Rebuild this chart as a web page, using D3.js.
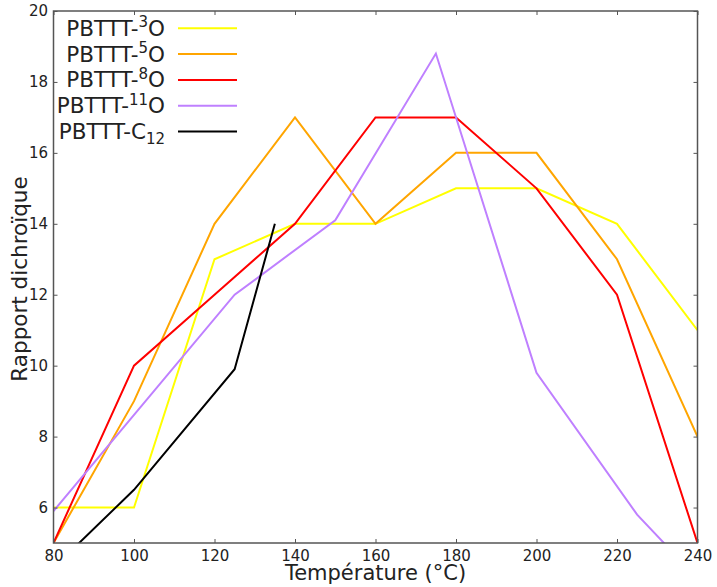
<!DOCTYPE html>
<html><head><meta charset="utf-8">
<script src="https://cdn.jsdelivr.net/npm/d3@7"></script>
<style>body{margin:0;background:#fff}svg{display:block}text{font-family:"DejaVu Sans",sans-serif;fill:#222}</style>
</head><body><svg id="c" width="717" height="587"></svg>
<script>
const xTicks = [80,100,120,140,160,180,200,220,240];
const yTicks = [6,8,10,12,14,16,18,20];
const s3O_x = [80,100,120,140,160,180,200,220,240];
const s3O_y = [6,6,13,14,14,15,15,14,11];
const s5O_x = [80,100,120,140,160,180,200,220,240];
const s5O_y = [5,9,14,17,14,16,16,13,8];
const s8O_x = [80,100,120,140,160,180,200,220,240];
const s8O_y = [5,10,12,14,17,17,15,12,5];
const s11O_x = [80,125,150,175,200,225,240];
const s11O_y = [5.9,12,14.1,18.8,9.8,5.8,4.0];
const sC12_x = [80,100,125,135];
const sC12_y = [4.3,6.5,9.9,14];
const names = [["PBTTT-","3","O","sup"],["PBTTT-","5","O","sup"],["PBTTT-","8","O","sup"],["PBTTT-","11","O","sup"],["PBTTT-C","12","","sub"]];
const colors = ["#ffff00","#ffa500","#ff0000","#bf80ff","#000000"];

const series = [[s3O_x,s3O_y],[s5O_x,s5O_y],[s8O_x,s8O_y],[s11O_x,s11O_y],[sC12_x,sC12_y]];
const L=53.5,R=697.5,T=11,B=543;
const svg=d3.select("#c");
const x=d3.scaleLinear().domain([80,240]).range([L,R]);
const y=d3.scaleLinear().domain([5,20]).range([B,T]);
svg.append("defs").append("clipPath").attr("id","clip").append("rect").attr("x",L).attr("y",T).attr("width",R-L).attr("height",B-T);
const line=d3.line().x(d=>x(d[0])).y(d=>y(d[1]));
const g=svg.append("g").attr("clip-path","url(#clip)");
series.forEach((s,i)=>{
  g.append("path").datum(s[0].map((v,j)=>[v,s[1][j]])).attr("d",line).attr("fill","none").attr("stroke",colors[i]).attr("stroke-width",2).attr("stroke-linejoin","miter");
});
const ax=(sel)=>sel.call(s=>s.select(".domain").remove()).call(s=>s.selectAll("line").attr("stroke","#555"));
svg.append("g").attr("transform",`translate(0,${B})`).call(d3.axisBottom(x).tickValues(xTicks).tickSize(-4).tickPadding(7)).call(ax).selectAll("text").attr("font-size",15).attr("font-family","DejaVu Sans").attr("fill","#222");
svg.append("g").attr("transform",`translate(0,${T})`).call(d3.axisTop(x).tickValues(xTicks).tickSize(-4).tickFormat("")).call(ax);
svg.append("g").attr("transform",`translate(${L},0)`).call(d3.axisLeft(y).tickValues(yTicks).tickSize(-4).tickPadding(5.5)).call(ax).selectAll("text").attr("font-size",15).attr("font-family","DejaVu Sans").attr("fill","#222");
svg.append("g").attr("transform",`translate(${R},0)`).call(d3.axisRight(y).tickValues(yTicks).tickSize(-4).tickFormat("")).call(ax);
svg.append("rect").attr("x",L).attr("y",T).attr("width",R-L).attr("height",B-T).attr("fill","none").attr("stroke","#555").attr("stroke-width",1.5);
names.forEach((n,i)=>{
  const ly=28.3+i*25.8;
  const t=svg.append("text").attr("x",165).attr("y",ly+7.5).attr("text-anchor","end").attr("font-size",21.5);
  t.append("tspan").text(n[0]);
  t.append("tspan").text(n[1]).attr("font-size",15).attr("dy",n[3]==="sup"?-8.5:5);
  if(n[2]) t.append("tspan").text(n[2]).attr("dy",n[3]==="sup"?8.5:-5);
  svg.append("line").attr("x1",178).attr("x2",237).attr("y1",ly).attr("y2",ly).attr("stroke",colors[i]).attr("stroke-width",2);
});
svg.append("text").attr("x",(L+R)/2).attr("y",580).attr("text-anchor","middle").attr("font-size",21).text("Température (°C)");
svg.append("text").attr("transform","translate(27,279) rotate(-90)").attr("text-anchor","middle").attr("font-size",21.5).text("Rapport dichroïque");
</script></body></html>
